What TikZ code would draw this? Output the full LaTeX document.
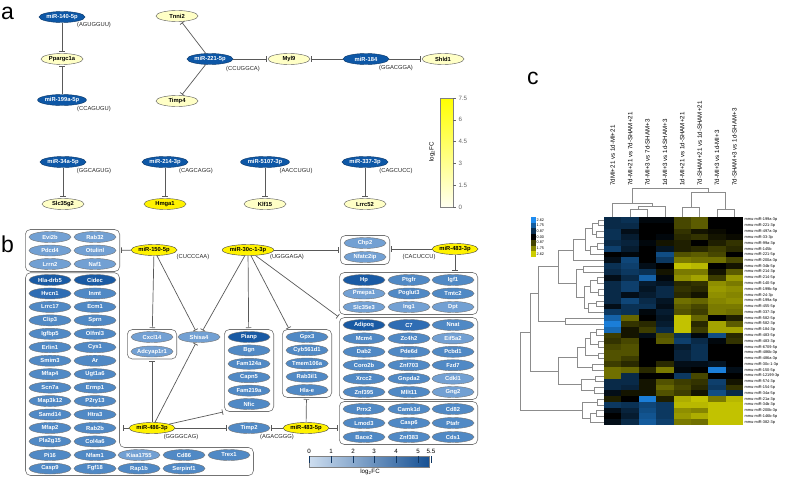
\documentclass[tikz,border=0pt]{standalone}
\usepackage{fontspec}
\setmainfont{Liberation Sans}
\usetikzlibrary{shapes.geometric,arrows.meta,fit}
\definecolor{mirblue}{HTML}{0D57A6}
\definecolor{paley}{HTML}{FFFFC6}
\definecolor{gbD}{HTML}{195AA4}
\definecolor{gbK}{HTML}{2F6DB4}
\definecolor{gbM}{HTML}{5089C5}
\definecolor{gbL}{HTML}{72A0D3}
\definecolor{hmB}{HTML}{1E8CF0}
\definecolor{hmY}{HTML}{CCCC00}

\begin{document}
\begin{tikzpicture}[x=1pt, y=-1pt,
  ell/.style={ellipse, inner sep=0pt, minimum width=42pt, minimum height=11pt, font=\fontsize{5.8}{6}\selectfont\bfseries},
  mir/.style={ell, minimum width=46pt, fill=mirblue, draw=mirblue!60!black, text=white},
  miry/.style={ell, minimum width=46pt, fill=yellow, draw=black!75},
  gy/.style={ell, fill=paley, draw=black!65},
  gyy/.style={ell, fill=yellow, draw=black!65},
  gb/.style={ell, fill=gb#1, draw=black!55, text=white},
  seq/.style={font=\fontsize{5.8}{6}\selectfont, text=black!85},
  grp/.style={draw=black!55, rounded corners=5pt, line width=0.6pt, inner xsep=3.5pt, inner ysep=1.8pt, fit=#1},
  inh/.style={draw=black!65, line width=0.7pt, -{Bar[width=5.5pt]}, shorten >=1.2pt},
  dg/.style={draw=black!45, line width=0.6pt},
  lab/.style={font=\fontsize{23}{23}\selectfont, anchor=base west, inner sep=0pt},
  tck/.style={font=\fontsize{6.2}{7}\selectfont}]
\useasboundingbox (0,0) rectangle (789,477);

% a
\node[lab] (la) at (1,19) {a};
\node[mir] (m140) at (62,17) {miR-140-5p};
\node[seq] (s140) at (94,25) {(AGUGGUU)};
\node[gy] (ppar) at (62,59) {Ppargc1a};
\node[mir] (m199) at (62,100) {miR-199a-5p};
\node[seq] (s199) at (94,109) {(CCAGUGU)};
\draw[inh] (m140) -- (ppar);
\draw[inh] (m199) -- (ppar);

\node[gy] (tnni) at (177,16) {Tnni2};
\node[mir] (m221) at (210,59) {miR-221-5p};
\node[seq] (s221) at (243,69) {(CCUGGCA)};
\node[gy] (timp4) at (177,101) {Timp4};
\node[gy] (myl9) at (289,59) {Myl9};
\node[mir] (m184) at (366,59) {miR-184};
\node[seq] (s184) at (396,68) {(GGACGGA)};
\node[gy] (shld) at (443,59) {Shld1};
\draw[inh] (m221) -- (tnni);
\draw[inh] (m221) -- (timp4);
\draw[inh] (m221) -- (myl9);
\draw[inh] (m184) -- (myl9);
\draw[inh] (m184) -- (shld);

\foreach \m/\s/\g/\x/\st [count=\i] in {miR-34a-5p/GGCAGUG/Slc35g2/63/gy, miR-214-3p/CAGCAGG/Hmga1/165/gyy,
    miR-5107-3p/AACCUGU/Klf15/265/gy, miR-337-3p/CAGCUCC/Lrrc52/365/gy} {
  \node[mir] (bm\i) at (\x,162) {\m};
  \node[seq] (bs\i) at (\x+31,171) {(\s)};
  \node[\st] (bg\i) at (\x,204) {\g};
  \draw[inh] (bm\i) -- (bg\i);
}

\shade[top color=yellow, bottom color=paley!25] (440,98) rectangle (453,207);
\draw[black!50, line width=0.5pt] (440,98) rectangle (453,207);
\foreach \v [count=\i from 0] in {0,1.5,3,4.5,6,7.5}
  \draw[black!60] (453,207-21.8*\i) -- ++(3,0) node[tck, right=-1pt] {\v};
\node[tck, rotate=90] (fca) at (432,152) {log\textsubscript{2}FC};

% b
\node[lab] (lb) at (1,252) {b};
\foreach \a/\b [count=\i from 0] in {Evi2b/Rab32, Pdcd4/Otulinl, Lrrn2/Naf1} {
  \node[gb=L] (tl\i a) at (50,237+13.5*\i) {\a};
  \node[gb=L] (tl\i b) at (95,237+13.5*\i) {\b};
}
\node[grp={(tl0a)(tl2b)}] (boxTL) {};

\foreach \a/\b/\ca/\cb [count=\i from 0] in {Hla-drb5/Cidec/D/D, Hvcn1/Inmt/K/M, Lrrc17/Ecm1/M/M,
    Clip3/Sprn/M/M, Igfbp5/Olfml3/M/M, Erlin1/Cys1/M/M, Smim3/Ar/M/M, Mfap4/Ugt1a6/M/M,
    Scn7a/Ermp1/M/M, Map3k12/P2ry13/M/M, Samd14/Htra3/M/M, Mfap2/Rab2b/M/M, Pla2g15/Col4a6/M/M} {
  \node[gb=\ca] (lf\i a) at (50,280+13.45*\i) {\a};
  \node[gb=\cb] (lf\i b) at (95,280+13.45*\i) {\b};
}
\foreach \g/\x/\cc [count=\i] in {Pi16/50/M, Nfam1/95/M, Kiaa1755/139/L, Cd86/184/M, Trex1/229/M}
  \node[gb=\cc] (bt\i) at (\x,455) {\g};
\foreach \g/\x/\cc [count=\i] in {Casp9/50/M, Fgf18/95/M, Rap1b/139/M, Serpinf1/184/M}
  \node[gb=\cc] (bu\i) at (\x,468.5) {\g};
\draw[draw=black!55, rounded corners=5pt, line width=0.6pt] (25.5,272.7) -- (119.5,272.7) -- (119.5,447.5)
  -- (253.5,447.5) -- (253.5,475.5) -- (25.5,475.5) -- cycle;
\coordinate (bigE) at (122,428);

\node[miry] (m150) at (154,250) {miR-150-5p};
\node[seq] (s150) at (193,257) {(CUCCCAA)};
\node[miry] (m30c) at (248,250) {miR-30c-1-3p};
\node[seq] (s30c) at (287,257) {(UGGGAGA)};
\node[miry] (m4833) at (455,249) {miR-483-3p};
\node[seq] (s4833) at (419,257) {(CACUCCU)};
\node[miry] (m4835) at (306,428) {miR-483-5p};
\node[seq] (s4835) at (277,437) {(AGACGGG)};
\node[miry] (m486) at (152,428) {miR-486-3p};
\node[seq] (s486) at (181,437) {(GGGGCAG)};

\node[gb=L] (chp) at (365,243) {Chp2};
\node[gb=L] (nfat) at (365,257) {Nfatc2ip};
\node[grp={(chp)(nfat)}] (boxCH) {};

\foreach \a/\b/\d/\ca/\cb/\cd [count=\i from 0] in {Hp/Ptgfr/Igf1/D/M/M, Pmepa1/Poglut3/Tmtc2/L/M/M, Slc35e3/Ing1/Dpt/L/L/L} {
  \node[gb=\ca] (hp\i a) at (364,280+13.5*\i) {\a};
  \node[gb=\cb] (hp\i b) at (409,280+13.5*\i) {\b};
  \node[gb=\cd] (hp\i c) at (453,280+13.5*\i) {\d};
}
\node[grp={(hp0a)(hp2c)}] (boxHP) {};

\foreach \a/\b/\d/\ca/\cb/\cd [count=\i from 0] in {Adipoq/C7/Nnat/D/K/M, Mcm4/Zc4h2/Eif5a2/M/M/L,
    Dab2/Pde6d/Pcbd1/M/M/M, Coro2b/Znf703/Fzd7/M/M/M, Xrcc2/Gnpda2/Cdkl1/M/M/L, Znf395/Mllt11/Gng2/M/M/L} {
  \node[gb=\ca] (ad\i a) at (364,325+13.4*\i) {\a};
  \node[gb=\cb] (ad\i b) at (409,325+13.4*\i) {\b};
  \node[gb=\cd] (ad\i c) at (453,325+13.4*\i) {\d};
}
\node[grp={(ad0a)(ad5c)}] (boxAD) {};

\foreach \a/\b/\d [count=\i from 0] in {Prrx2/Camk1d/Cd82, Lmod3/Casp6/Ptafr, Bace2/Znf383/Cds1} {
  \node[gb=M] (pr\i a) at (364,409+14*\i) {\a};
  \node[gb=M] (pr\i b) at (409,409+14*\i) {\b};
  \node[gb=M] (pr\i c) at (453,409+14*\i) {\d};
}
\node[grp={(pr0a)(pr2c)}] (boxPR) {};

\foreach \g [count=\i from 0] in {Gpx3, Cyb561d1, Tmem106a, Rab3il1, Hla-e}
  \node[gb=M] (gp\i) at (307,337+13.25*\i) {\g};
\node[grp={(gp0)(gp4)}] (boxGP) {};

\foreach \g/\cc [count=\i from 0] in {Pianp/D, Bgn/M, Fam124a/M, Capn5/M, Fam219a/M, Nfic/M}
  \node[gb=\cc] (pl\i) at (249,337+13.4*\i) {\g};
\node[grp={(pl0)(pl5)}] (boxPL) {};

\node[gb=L] (cx) at (152,337) {Cxcl14};
\node[gb=L] (adcy) at (152,351.5) {Adcyap1r1};
\node[grp={(cx)(adcy)}] (boxCX) {};
\node[gb=L] (shisa) at (199,337) {Shisa4};
\node[gb=M] (timp2) at (249,428) {Timp2};

\draw[inh] (m150) -- (boxTL);
\draw[inh] (m150) -- (boxCX);
\draw[inh] (m150) -- (shisa);
\draw[inh] (m30c) -- (shisa);
\draw[inh] (m30c) -- (boxPL);
\draw[inh] (m30c) -- (boxGP);
\draw[inh] (m30c) -- (boxAD.north west);
\draw[inh] (m30c) -- (boxCH);
\draw[inh] (m4833) -- (m4833 -| boxCH.east);
\draw[inh] (m4833) -- (m4833 |- boxHP.north);
\draw[inh] (m4835) -- (boxGP);
\draw[inh] (m4835) -- (timp2);
\draw[inh] (m4835) -- (m4835 -| boxPR.west);
\draw[inh] (m486) -- (boxCX);
\draw[inh] (m486) -- (shisa);
\draw[inh] (m486) -- (boxPL.south west);
\draw[inh] (m486) -- (timp2);
\draw[inh] (m486) -- (bigE);

\shade[left color=gbL!35, right color=gbD!90!black] (309,456) rectangle (429,467);
\draw[black!50, line width=0.5pt] (309,456) rectangle (429,467);
\foreach \v/\x in {0/309,1/331,2/353,3/374,4/396,5/418,5.5/431} {
  \node[tck] at (\x,451) {\v};
  \draw[gbD!60!black, line width=0.5pt] (\x,456) -- (\x,463);
}
\node[tck] (fcb) at (370,472) {log\textsubscript{2}FC};

% c
\node[lab] (lc) at (527,84) {c};
\foreach \t [count=\i] in {7dMI+21 vs 1d-MI+21, 7d-MI+21 vs 7d-SHAM+21, 7d-MI+3 vs 7d-SHAM+3, 1d-MI+3 vs 1d-SHAM+3,
    1d-MI+21 vs 1d-SHAM+21, 7d-SHAM+21 vs 1d-SHAM+21, 7d-MI+3 vs 1d-MI+3, 7d-SHAM+3 vs 1d-SHAM+3}
  \node[tck, rotate=90, anchor=west, inner sep=0pt] (cl\i) at ({612.7+17.375*(\i-1)},186) {\t};

\foreach \rv [count=\rw] in {{30,35,5,5,-35,-45,0,0},{30,30,0,0,-35,-45,0,0},{35,10,0,0,-25,-10,-5,0},
    {35,20,0,5,-20,-25,-10,-5},{30,25,5,-10,-15,0,-15,-25},{45,20,0,15,-15,-20,-30,-20},
    {0,5,0,55,-40,-45,-35,0},{10,50,0,40,-60,-55,-55,-35},{35,45,10,0,-95,-90,0,-10},
    {30,40,35,-10,-60,-60,-10,-45},{10,30,70,5,-70,-80,-30,-75},{30,45,20,15,-20,-25,-70,-60},
    {30,45,15,30,-25,-20,-75,-70},{30,10,20,30,-20,-10,-70,-65},{30,50,30,15,-55,-50,-65,-70},
    {10,35,35,10,-45,-35,-60,-60},{40,35,5,20,-40,-30,-60,-55},{70,-50,0,15,-95,-50,0,-15},
    {90,-25,-20,20,-95,-20,-80,-45},{75,-10,-30,30,-95,-30,-80,-80},{-30,-10,10,-40,35,5,55,-20},
    {-25,-35,0,-45,45,30,5,-25},{-35,-40,0,0,20,35,0,0},{-40,-40,0,0,25,35,0,0},
    {-40,-30,0,0,25,35,0,0},{-30,-20,0,-20,10,10,15,0},{-55,-50,-20,-60,5,0,90,10},
    {-55,30,0,0,40,-35,0,0},{30,30,-10,-40,-30,-25,45,-10},{30,25,-10,-50,-35,-20,40,-25},
    {10,-10,-10,-40,-30,-10,55,30},{-15,0,90,-15,-85,-95,-60,-90},{40,35,50,40,-90,-90,-95,-95},
    {10,25,55,40,-70,-65,-95,-95},{0,20,60,40,-75,-85,-95,-95},{10,30,65,45,-60,-55,-95,-95}} {
  \foreach \v [count=\cl] in \rv {
    \ifnum\v<0 \edef\hcol{hmY!\number-\v!black}\else\edef\hcol{hmB!\v!black}\fi
    \fill[fill=\hcol] ({604+17.375*(\cl-1)},{217+5.778*(\rw-1)}) rectangle +(17.5,5.9);
  }
}

\foreach \t [count=\i] in {199a-3p,221-3p,497a-3p,33-3p,99a-3p,145b,221-5p,200a-3p,34b-5p,214-3p,214-5p,
    140-5p,199b-5p,24-3p,199a-5p,455-5p,337-3p,582-5p,582-3p,184-3p,483-5p,483-3p,6709-5p,486b-3p,
    486a-3p,30c-1-3p,150-5p,12199-3p,574-3p,154-5p,34a-5p,21a-3p,34b-3p,200b-3p,146b-5p,382-3p}
  \node[anchor=west, inner sep=0pt, font=\fontsize{3.9}{4}\selectfont] (rl\i) at (744.5,{217+5.778*(\i-0.5)}) {mmu-miR-\t};

\foreach \x/\ya/\xb/\yb/\xm in {604/219.9/604/225.7/598, 604/231.4/604/237.2/596, 598/222.8/596/234.3/592,
    604/243.0/604/248.8/597, 597/245.9/604/254.6/590, 592/228.55/590/250.25/585, 585/239.4/604/260.3/573,
    604/266.1/604/271.9/583, 604/277.7/604/283.4/597, 604/289.2/604/295.0/598, 597/280.55/598/292.1/590,
    604/300.8/604/306.6/596, 596/303.7/604/312.3/588, 590/286.3/588/308.0/584, 583/269.0/584/297.15/576,
    573/249.85/576/283.1/558, 604/318.1/604/323.9/565, 558/266.5/565/321.0/538, 604/329.7/604/335.4/596,
    604/341.2/604/347.0/598, 596/332.55/598/344.1/590, 604/352.8/604/358.6/598, 590/338.3/598/355.7/585,
    604/364.3/604/370.1/592, 585/347.0/592/367.2/577, 604/375.9/604/381.7/595, 604/387.4/604/393.2/594,
    595/378.8/594/390.3/581, 577/357.1/581/384.55/558, 538/293.75/558/370.8/530, 604/399.0/604/404.8/597,
    604/410.6/604/416.3/596, 596/413.45/604/422.1/590, 597/401.9/590/417.8/582, 530/332.3/582/409.85/520}
  \draw[dg] (\x,\ya) -- (\xm,\ya) -- (\xm,\yb) -- (\xb,\yb);

\foreach \xa/\y/\xb/\yb/\ym in {630.1/217/647.4/217/209, 638.75/209/664.8/217/206.5, 612.7/217/651.8/206.5/203,
    682.2/217/699.6/217/207, 717.0/217/734.3/217/209, 690.9/207/725.65/209/192, 632.2/203/708.3/192/188}
  \draw[dg] (\xa,\y) -- (\xa,\ym) -- (\xb,\ym) -- (\xb,\yb);

\foreach \cc/\t [count=\i from 0] in {hmB/2.62, hmB!66!black/1.75, hmB!33!black/0.87, black/0.00,
    hmY!33!black/0.87, hmY!66!black/1.75, hmY/2.62} {
  \fill[fill=\cc] (531,217+5.7*\i) rectangle +(4.5,5.7);
  \node[anchor=west, inner sep=0pt, font=\fontsize{3.8}{4}\selectfont] (lg\i) at (536.5,219.85+5.7*\i) {\t};
}
\end{tikzpicture}
\end{document}
